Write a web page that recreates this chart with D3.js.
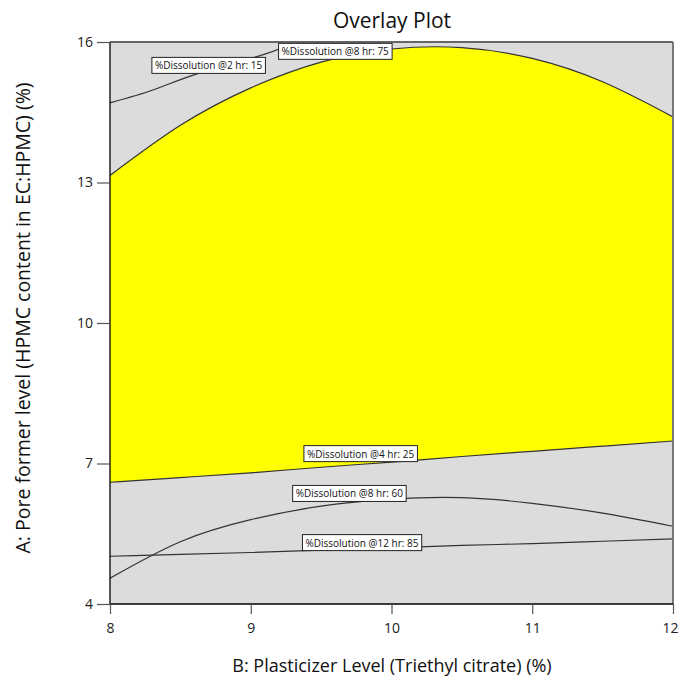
<!DOCTYPE html>
<html>
<head>
<meta charset="utf-8">
<script src="https://cdn.jsdelivr.net/npm/d3@7"></script>
<style>
  body { margin: 0; background: #fff; }
  text { font-family: "Open Sans", "Noto Sans", sans-serif; }
</style>
</head>
<body>
<div id="chart"></div>
<script>
// x grid (B: plasticizer level) shared by most contours
var xGrid = [8, 8.5, 9, 9.5, 10, 10.5, 11, 11.5, 12];
// contour lines, A value at each x of xGrid
var diss8hr75 = [13.15, 14.22, 15.02, 15.57, 15.85, 15.88, 15.65, 15.15, 14.40];
var diss4hr25 = [6.60, 6.70, 6.80, 6.92, 7.03, 7.15, 7.26, 7.37, 7.48];
var diss8hr60 = [4.55, 5.33, 5.80, 6.09, 6.24, 6.27, 6.15, 5.94, 5.66];
var diss12hr85 = [5.02, 5.06, 5.10, 5.15, 5.20, 5.25, 5.29, 5.34, 5.39];
// 2 hr contour leaves the top edge early
var x2hr = [8, 8.31, 8.64, 9.1, 9.3];
var diss2hr15 = [14.70, 14.98, 15.34, 15.74, 16.0];

var xTicks = [8, 9, 10, 11, 12];
var yTicks = [4, 7, 10, 13, 16];

var w = 680, h = 687;
var pLeft = 110, pRight = 673, pTop = 42, pBottom = 604;

var svg = d3.select("#chart").append("svg")
    .attr("width", w)
    .attr("height", h);

var x = d3.scaleLinear().domain([8, 12]).range([pLeft, pRight]);
var y = d3.scaleLinear().domain([4, 16]).range([pBottom, pTop]);

svg.append("clipPath").attr("id", "plotclip")
    .append("rect")
    .attr("x", pLeft).attr("y", pTop)
    .attr("width", pRight - pLeft).attr("height", pBottom - pTop);

// grey background
svg.append("rect")
    .attr("x", pLeft).attr("y", pTop)
    .attr("width", pRight - pLeft).attr("height", pBottom - pTop)
    .attr("fill", "#dcdcdc");

var g = svg.append("g").attr("clip-path", "url(#plotclip)");

// yellow design space between the 4 hr and 8 hr:75 contours
var area = d3.area()
    .x(function (d, i) { return x(xGrid[i]); })
    .y0(function (d, i) { return y(diss4hr25[i]); })
    .y1(function (d, i) { return y(diss8hr75[i]); })
    .curve(d3.curveNatural);

g.append("path")
    .datum(xGrid)
    .attr("d", area)
    .attr("fill", "#ffff00");

var line = d3.line()
    .x(function (d) { return x(d[0]); })
    .y(function (d) { return y(d[1]); })
    .curve(d3.curveNatural);

var contours = [
    { xs: xGrid, ys: diss8hr75 },
    { xs: xGrid, ys: diss4hr25 },
    { xs: xGrid, ys: diss8hr60 },
    { xs: xGrid, ys: diss12hr85 },
    { xs: x2hr, ys: diss2hr15 }
];

g.selectAll("path.contour")
    .data(contours)
    .enter()
    .append("path")
    .attr("class", "contour")
    .attr("d", function (c) { return line(c.xs.map(function (v, i) { return [v, c.ys[i]]; })); })
    .attr("fill", "none")
    .attr("stroke", "#333")
    .attr("stroke-width", 1.2);

// frame
svg.append("line").attr("x1", pLeft).attr("x2", pRight).attr("y1", pTop).attr("y2", pTop)
    .attr("stroke", "#666").attr("stroke-width", 2);
svg.append("line").attr("x1", pRight).attr("x2", pRight).attr("y1", pTop).attr("y2", pBottom)
    .attr("stroke", "#777").attr("stroke-width", 2);

// axes
var xAxis = svg.append("g")
    .attr("transform", "translate(0," + pBottom + ")")
    .call(d3.axisBottom(x).tickValues(xTicks).tickSize(10).tickPadding(9).tickFormat(d3.format("d")));
var yAxis = svg.append("g")
    .attr("transform", "translate(" + pLeft + ",0)")
    .call(d3.axisLeft(y).tickValues(yTicks).tickSize(13).tickPadding(4).tickFormat(d3.format("d")));

[xAxis, yAxis].forEach(function (a) {
    a.select(".domain").attr("stroke", "#000").attr("stroke-width", 1.3);
    a.selectAll(".tick line").attr("stroke", "#555").attr("stroke-width", 1.2);
    a.selectAll(".tick text")
        .attr("font-family", "'Open Sans', 'Noto Sans', sans-serif")
        .attr("font-size", 14)
        .attr("fill", "#222");
});
xAxis.select(".domain").attr("d", "M" + pLeft + ",0H" + pRight);
yAxis.select(".domain").attr("d", "M0," + pBottom + "V" + pTop);
// last x label sits at the window edge
xAxis.selectAll(".tick text").filter(function (d) { return d === 12; }).attr("dx", -3);

// contour labels
var labels = [
    { text: "%Dissolution @2 hr: 15", x: 8.70, y: 15.49 },
    { text: "%Dissolution @8 hr: 75", x: 9.60, y: 15.79 },
    { text: "%Dissolution @4 hr: 25", x: 9.78, y: 7.20 },
    { text: "%Dissolution @8 hr: 60", x: 9.70, y: 6.35 },
    { text: "%Dissolution @12 hr: 85", x: 9.79, y: 5.30 }
];

var lab = svg.selectAll("g.lab")
    .data(labels)
    .enter()
    .append("g")
    .attr("class", "lab")
    .attr("transform", function (d) { return "translate(" + x(d.x) + "," + y(d.y) + ")"; });

lab.append("text")
    .text(function (d) { return d.text; })
    .attr("text-anchor", "middle")
    .attr("dy", "0.35em")
    .attr("font-size", 10)
    .attr("fill", "#111");

lab.each(function () {
    var t = d3.select(this).select("text");
    var b = t.node().getBBox();
    d3.select(this).insert("rect", "text")
        .attr("x", b.x - 3).attr("y", b.y - 1)
        .attr("width", b.width + 6).attr("height", b.height + 2)
        .attr("fill", "#fff")
        .attr("stroke", "#222")
        .attr("stroke-width", 1);
});

// titles
svg.append("text")
    .attr("x", 392).attr("y", 28)
    .attr("text-anchor", "middle")
    .attr("font-size", 21)
    .attr("fill", "#111")
    .text("Overlay Plot");

svg.append("text")
    .attr("x", 392).attr("y", 672)
    .attr("text-anchor", "middle")
    .attr("font-size", 18)
    .attr("fill", "#111")
    .text("B: Plasticizer Level (Triethyl citrate) (%)");

svg.append("text")
    .attr("transform", "translate(30,318) rotate(-90)")
    .attr("text-anchor", "middle")
    .attr("font-size", 19.5)
    .attr("fill", "#111")
    .text("A: Pore former level (HPMC content in EC:HPMC) (%)");
</script>
</body>
</html>
